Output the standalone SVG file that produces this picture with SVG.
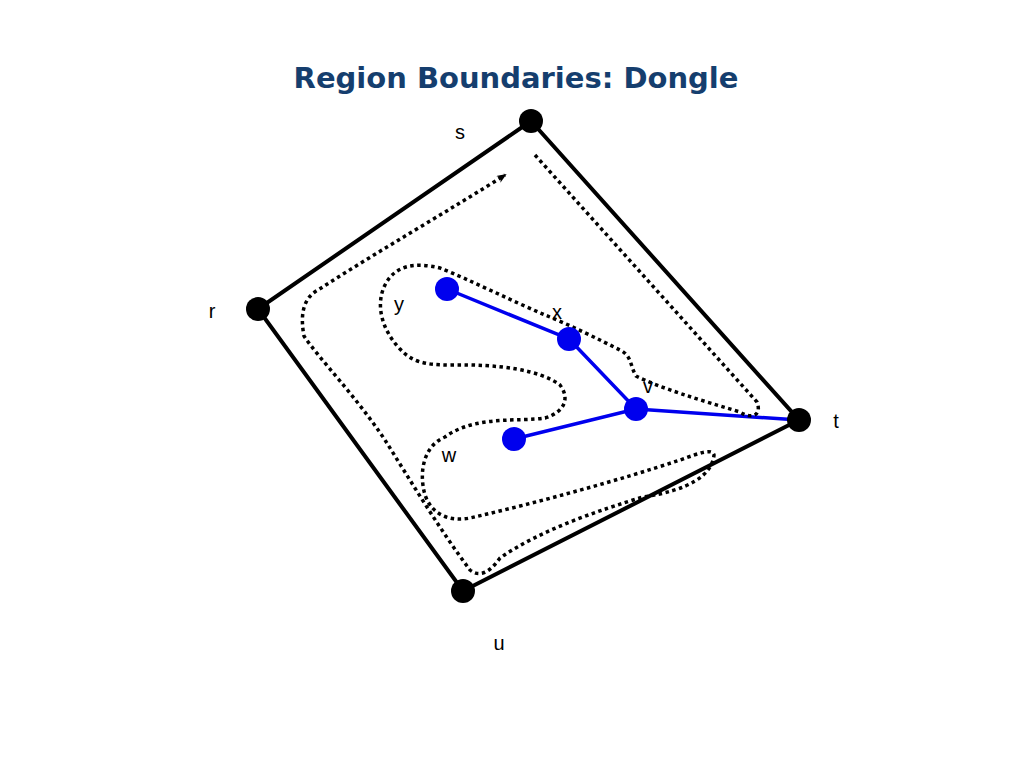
<svg xmlns="http://www.w3.org/2000/svg" width="1024" height="768" viewBox="0 0 1024 768">
<style>
.lbl{font-family:"Liberation Sans",Arial,sans-serif;font-size:20px;fill:#000}
.edge{stroke:#000;stroke-width:4;fill:none}
.tree{stroke:#0000ee;stroke-width:3.5;fill:none}
.dot{stroke:#000;stroke-width:3.5;fill:none;stroke-dasharray:3.5 3.5}
</style>
<defs><marker id="ah" markerWidth="10" markerHeight="8" refX="8" refY="4" orient="auto" markerUnits="userSpaceOnUse"><path d="M0,0 L10,4 L0,8 L3,4 Z" fill="#000"/></marker></defs>
<rect width="1024" height="768" fill="#fff"/>
<text x="516" y="88" text-anchor="middle" font-family="'Comic Sans MS','DejaVu Sans',sans-serif" font-size="29" font-weight="bold" fill="#153e6e">Region Boundaries: Dongle</text>
<g id="connectors">
<path class="edge" d="M531,121 L799,420 L463,591 L258,309 Z"/>
<path class="tree" d="M447,289 L569,339 L636,409 L514,439 M636,409 L799,420"/>
<path class="dot" marker-end="url(#ah)" d="M535,155 L757,402 C762,415 752,420 740,412 C700,400 660,388 636,376 C630,366 632,356 620,350 C600,340 570,325 545,315 C510,300 470,280 440,268 C415,262 395,265 385,285 C375,305 382,330 400,349 C412,362 425,365 450,365 C500,364 540,370 560,385 C570,398 565,412 545,418 C520,422 475,415 445,437 C425,445 418,470 425,495 C432,515 450,522 470,518 C540,502 620,480 680,460 C700,453 712,448 714,455 C712,475 690,490 643,497 C600,510 540,530 500,558 C490,572 480,578 470,570 C440,530 410,480 385,440 C355,395 320,360 304,336 C300,315 303,298 318,290 C380,250 450,210 505,175"/>
</g>
<g id="s"><circle cx="531" cy="121" r="12" fill="#000"/><text class="lbl" x="460" y="139" text-anchor="middle">s</text></g>
<g id="r"><circle cx="258" cy="309" r="12" fill="#000"/><text class="lbl" x="212" y="318" text-anchor="middle">r</text></g>
<g id="t"><circle cx="799" cy="420" r="12" fill="#000"/><text class="lbl" x="836" y="428" text-anchor="middle">t</text></g>
<g id="u"><circle cx="463" cy="591" r="12" fill="#000"/><text class="lbl" x="499" y="650" text-anchor="middle">u</text></g>
<g id="y"><circle cx="447" cy="289" r="12" fill="#0000ee"/><text class="lbl" x="399" y="311" text-anchor="middle">y</text></g>
<g id="x"><circle cx="569" cy="339" r="12" fill="#0000ee"/><text class="lbl" x="557" y="319" text-anchor="middle">x</text></g>
<g id="v"><circle cx="636" cy="409" r="12" fill="#0000ee"/><text class="lbl" x="648" y="393" text-anchor="middle">v</text></g>
<g id="w"><circle cx="514" cy="439" r="12" fill="#0000ee"/><text class="lbl" x="449" y="462" text-anchor="middle">w</text></g>
</svg>
